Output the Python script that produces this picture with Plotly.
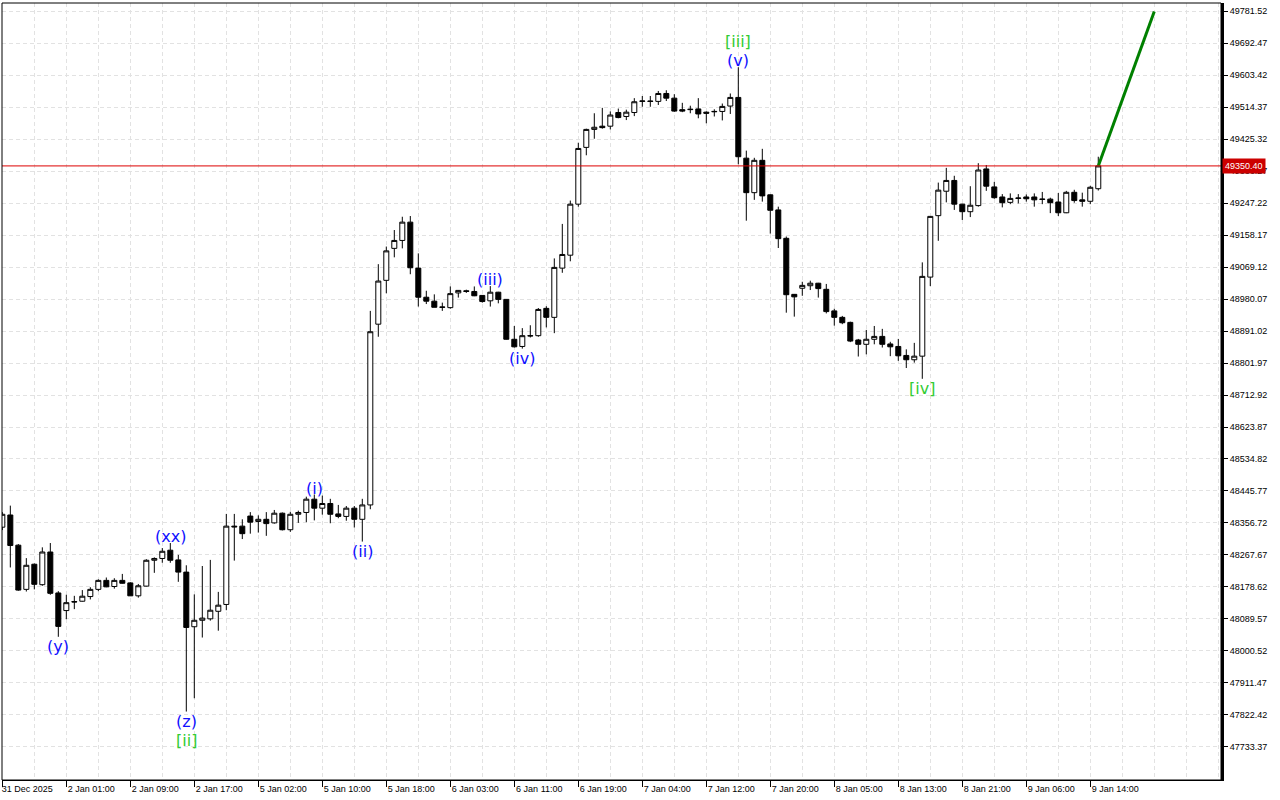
"""Hourly index candles with Elliott wave labels and a projected leg."""

import plotly.graph_objects as go

# hourly bars, oldest first (index = bar number on the chart)
opens = [
    48345, 48379, 48295, 48172, 48242, 48185, 48276, 48162, 48113, 48138,
    48139, 48152, 48172, 48197, 48180, 48197, 48190, 48154, 48181, 48253,
    48258, 48281, 48254, 48220, 48068, 48086, 48090, 48111, 48130, 48348,
    48348, 48376, 48361, 48367, 48357, 48384, 48338, 48381, 48386, 48423,
    48398, 48411, 48382, 48375, 48398, 48367, 48407, 48910, 49032, 49121,
    49143, 49194, 49066, 48985, 48974, 48958, 48956, 48997, 49003, 49001,
    48990, 48975, 48999, 48979, 48868, 48848, 48877, 48878, 48954, 48929,
    49066, 49102, 49244, 49402, 49452, 49461, 49461, 49499, 49488, 49499,
    49530, 49531, 49530, 49552, 49539, 49507, 49507, 49509, 49500, 49501,
    49502, 49517, 49541, 49372, 49276, 49366, 49270, 49228, 49149, 48993,
    49010, 49017, 49024, 49007, 48947, 48929, 48915, 48866, 48854, 48868,
    48876, 48855, 48848, 48823, 48811, 48821, 49041, 49212, 49280, 49310,
    49244, 49223, 49240, 49342, 49292, 49264, 49249, 49260, 49264, 49264,
    49257, 49258, 49250, 49220, 49277, 49256, 49252, 49287,
]
highs = [
    48387, 48405, 48298, 48259, 48244, 48289, 48301, 48167, 48157, 48154,
    48170, 48178, 48200, 48205, 48203, 48215, 48192, 48187, 48256, 48261,
    48287, 48301, 48268, 48239, 48158, 48237, 48254, 48165, 48382, 48382,
    48367, 48387, 48378, 48387, 48393, 48386, 48388, 48391, 48430, 48436,
    48433, 48424, 48407, 48404, 48404, 48424, 48947, 49077, 49126, 49172,
    49209, 49211, 49107, 49003, 48993, 48970, 49015, 49005, 49006, 49015,
    48991, 49016, 49000, 48980, 48905, 48899, 48907, 48955, 48960, 49093,
    49189, 49254, 49415, 49454, 49497, 49512, 49502, 49510, 49507, 49539,
    49545, 49545, 49559, 49561, 49550, 49526, 49518, 49539, 49502, 49508,
    49524, 49552, 49625, 49393, 49373, 49398, 49271, 49237, 49154, 48994,
    49028, 49031, 49025, 49022, 48953, 48933, 48917, 48869, 48894, 48905,
    48897, 48861, 48869, 48840, 48858, 49082, 49211, 49304, 49345, 49323,
    49245, 49294, 49358, 49353, 49306, 49272, 49274, 49272, 49271, 49274,
    49278, 49262, 49275, 49281, 49284, 49276, 49295, 49376,
]
lows = [
    48337, 48233, 48168, 48166, 48172, 48182, 48157, 48040, 48089, 48117,
    48138, 48144, 48167, 48178, 48174, 48188, 48154, 48149, 48180, 48218,
    48246, 48246, 48193, 47832, 47869, 48038, 48085, 48057, 48114, 48252,
    48312, 48327, 48330, 48321, 48355, 48336, 48332, 48357, 48359, 48364,
    48380, 48356, 48370, 48363, 48344, 48305, 48395, 48875, 48996, 49096,
    49121, 49049, 48959, 48966, 48957, 48947, 48953, 48984, 48997, 48988,
    48970, 48959, 48968, 48867, 48845, 48842, 48873, 48875, 48901, 48885,
    49053, 49085, 49237, 49380, 49426, 49454, 49452, 49483, 49478, 49489,
    49515, 49515, 49520, 49531, 49501, 49500, 49497, 49483, 49469, 49488,
    49477, 49495, 49355, 49198, 49256, 49251, 49162, 49122, 48942, 48931,
    48989, 49005, 48984, 48940, 48906, 48910, 48860, 48820, 48826, 48854,
    48845, 48821, 48808, 48788, 48803, 48758, 49016, 49142, 49249, 49228,
    49200, 49208, 49237, 49281, 49259, 49235, 49244, 49246, 49251, 49237,
    49244, 49219, 49211, 49219, 49248, 49237, 49244, 49282,
]
closes = [
    48381, 48294, 48170, 48239, 48186, 48276, 48161, 48069, 48135, 48137,
    48153, 48172, 48197, 48179, 48197, 48189, 48154, 48182, 48253, 48258,
    48278, 48253, 48220, 48066, 48086, 48092, 48114, 48128, 48348, 48346,
    48327, 48359, 48367, 48355, 48384, 48338, 48381, 48386, 48423, 48398,
    48411, 48381, 48375, 48398, 48367, 48407, 48889, 49030, 49114, 49143,
    49194, 49067, 48985, 48974, 48957, 48957, 48995, 49004, 49001, 48989,
    48973, 48999, 48979, 48868, 48847, 48878, 48878, 48951, 48929, 49068,
    49104, 49244, 49399, 49452, 49458, 49457, 49492, 49485, 49500, 49529,
    49531, 49530, 49552, 49539, 49503, 49503, 49508, 49495, 49497, 49502,
    49516, 49541, 49376, 49276, 49366, 49267, 49227, 49148, 48992, 48986,
    49018, 49024, 49009, 48945, 48929, 48914, 48863, 48854, 48868, 48876,
    48854, 48847, 48822, 48811, 48821, 49043, 49210, 49283, 49310, 49244,
    49223, 49241, 49339, 49294, 49262, 49248, 49260, 49261, 49259, 49256,
    49258, 49248, 49220, 49277, 49254, 49252, 49291, 49350.40,
]

# time axis: one label every 8 bars
time_labels = [
    "31 Dec 2025", "2 Jan 01:00", "2 Jan 09:00", "2 Jan 17:00", "5 Jan 02:00",
    "5 Jan 10:00", "5 Jan 18:00", "6 Jan 03:00", "6 Jan 11:00", "6 Jan 19:00",
    "7 Jan 04:00", "7 Jan 12:00", "7 Jan 20:00", "8 Jan 05:00", "8 Jan 13:00",
    "8 Jan 21:00", "9 Jan 06:00", "9 Jan 14:00",
]
label_step = 8

price_ticks = [
    49781.52, 49692.47, 49603.42, 49514.37, 49425.32, 49336.27, 49247.22,
    49158.17, 49069.12, 48980.07, 48891.02, 48801.97, 48712.92, 48623.87,
    48534.82, 48445.77, 48356.72, 48267.67, 48178.62, 48089.57, 48000.52,
    47911.47, 47822.42, 47733.37,
]

# wave marks: text, bar, high/low, stack level
wave_text = ["(y)", "(xx)", "(z)", "[ii]", "(i)", "(ii)", "(iii)", "(iv)", "[iii]", "(v)", "[iv]"]
wave_bar = [7, 21, 23, 23, 39, 45, 61, 65, 92, 92, 115]
wave_side = ["low", "high", "low", "low", "high", "low", "high", "low", "high", "high", "low"]
wave_level = [0, 0, 0, 1, 0, 0, 0, 0, 1, 0, 0]

# projected leg
forecast_x = [137, 144]
forecast_y = [49350.40, 49780.0]

FONT_AXIS = dict(family="Liberation Sans, Arial, sans-serif", size=9, color="#000000")
GRID = dict(gridcolor="#e2e2e2", griddash="4px,3px", gridwidth=1)
BLUE = "#1010ff"
GREEN = "#33cc33"
RED = "#dd0000"

bars = list(range(len(closes)))

fig = go.Figure()
fig.add_trace(
    go.Candlestick(
        x=bars,
        open=opens,
        high=highs,
        low=lows,
        close=closes,
        increasing=dict(fillcolor="#ffffff", line=dict(color="#000000", width=1)),
        decreasing=dict(fillcolor="#000000", line=dict(color="#000000", width=1)),
        whiskerwidth=0,
        showlegend=False,
        hoverinfo="skip",
    )
)
fig.add_trace(
    go.Scatter(
        x=forecast_x,
        y=forecast_y,
        mode="lines",
        line=dict(color="#008000", width=3),
        showlegend=False,
        hoverinfo="skip",
    )
)

# current price line + tag
last = closes[-1]
fig.add_shape(type="line", xref="paper", yref="y", x0=0, x1=1, y0=last, y1=last,
              line=dict(color=RED, width=1), layer="above")
fig.add_annotation(
    x=1, xref="paper", y=last, yref="y",
    xanchor="left", yanchor="middle", xshift=1,
    text=f"{last:.2f}", showarrow=False,
    bgcolor="#cc0000", borderpad=2,
    font=dict(family="Liberation Sans, Arial, sans-serif", size=9, color="#ffffff"),
)

for txt, b, side, lvl in zip(wave_text, wave_bar, wave_side, wave_level):
    above = side == "high"
    fig.add_annotation(
        x=b, y=highs[b] if above else lows[b],
        text=txt, showarrow=False, borderpad=0,
        yanchor="bottom" if above else "top",
        yshift=(-4 + 19 * lvl) if above else (1 - 19 * lvl),
        font=dict(family="DejaVu Sans, sans-serif", size=16,
                  color=GREEN if txt.startswith("[") else BLUE),
    )

# thin outer frame
fig.add_shape(type="rect", xref="paper", yref="paper", x0=0, y0=0, x1=1, y1=1,
              line=dict(color="#000000", width=1))

fig.update_layout(
    width=1280,
    height=800,
    margin=dict(l=2, r=59, t=3, b=20),
    paper_bgcolor="#ffffff",
    plot_bgcolor="#ffffff",
    boxgap=0.375,
    boxgroupgap=0,
    showlegend=False,
    xaxis=dict(
        range=[-0.04, 152.34],
        rangeslider=dict(visible=False),
        tickmode="array",
        tickvals=bars[::label_step],
        ticktext=time_labels,
        ticks="outside",
        ticklen=6,
        tickcolor="#000000",
        ticklabelshift=25,
        ticklabelstandoff=-6,
        tickfont=FONT_AXIS,
        showline=True,
        linecolor="#000000",
        linewidth=1,
        showgrid=True,
        zeroline=False,
        minor=dict(dtick=4, tick0=0, showgrid=True, ticks="", **GRID),
        **GRID,
    ),
    yaxis=dict(
        side="right",
        range=[47641.5, 49803.8],
        tickmode="array",
        tickvals=price_ticks,
        ticktext=[f"{v:.2f}" for v in price_ticks],
        ticks="outside",
        ticklen=4,
        tickcolor="#000000",
        tickfont=FONT_AXIS,
        showline=True,
        linecolor="#000000",
        linewidth=3,
        showgrid=True,
        zeroline=False,
        **GRID,
    ),
)

# page body has a default 8px margin; drop it so the figure sits at (0, 0)
fig.write_html(
    "out.html",
    config={"displayModeBar": False},
    post_script="document.body.style.margin='0';document.body.style.overflow='hidden';",
)
